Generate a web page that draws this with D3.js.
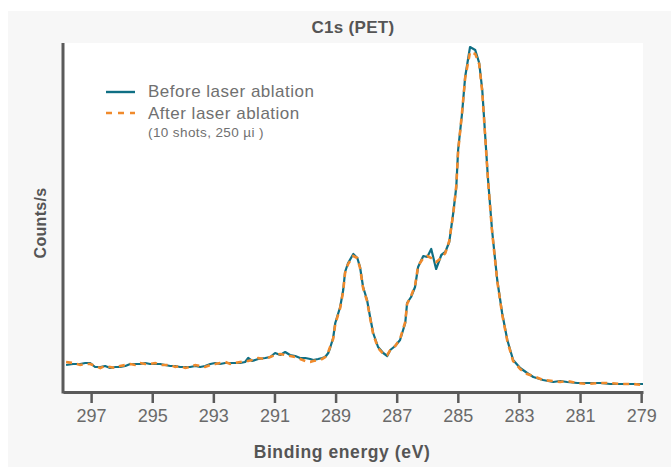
<!DOCTYPE html>
<html>

<head>
	<title>C1s (PET)</title>
	<script src="https://cdn.jsdelivr.net/npm/d3@7/dist/d3.min.js"></script>
	<style>
		body { margin: 0; background: white; }
		text { font-family: "Liberation Sans", Arial, sans-serif; }
	</style>
</head>

<body>
	<svg id="chart" width="671" height="467"></svg>

	<script>
		// binding energy (eV) and counts (arbitrary units)
		var energy = [297.82, 297.59, 297.36, 297.19, 297.03, 296.87, 296.70, 296.54, 296.38, 296.21,
			296.05, 295.88, 295.72, 295.56, 295.39, 295.23, 295.07, 294.90, 294.74, 294.58,
			294.41, 294.25, 294.09, 293.92, 293.76, 293.59, 293.43, 293.27, 293.10, 292.94,
			292.78, 292.61, 292.45, 292.29, 292.12, 291.96, 291.86, 291.73, 291.53, 291.30,
			291.14, 290.98, 290.81, 290.65, 290.49, 290.32, 290.16, 289.99, 289.83, 289.73,
			289.57, 289.44, 289.34, 289.24, 289.18, 289.08, 289.01, 288.85, 288.75, 288.69,
			288.59, 288.42, 288.29, 288.20, 288.10, 287.97, 287.87, 287.77, 287.61, 287.44,
			287.31, 287.21, 287.05, 286.89, 286.72, 286.66, 286.53, 286.40, 286.30, 286.13,
			286.00, 285.87, 285.71, 285.54, 285.41, 285.28, 285.15, 285.05, 284.99, 284.86,
			284.76, 284.60, 284.43, 284.30, 284.20, 284.11, 284.01, 283.88, 283.71, 283.55,
			283.38, 283.19, 282.96, 282.73, 282.53, 282.21, 281.88, 281.65, 281.42, 281.09,
			280.77, 280.34, 280.01, 279.69, 279.26, 278.94];

		var before = [27, 28, 28, 29, 29, 25, 25, 26, 24, 25,
			25, 26, 28, 28, 28, 29, 28, 28, 28, 27,
			26, 26, 25, 25, 25, 26, 25, 26, 28, 29,
			28, 29, 29, 29, 29, 30, 34, 31, 33, 34,
			35, 39, 37, 40, 37, 36, 34, 34, 33, 32,
			33, 34, 35, 39, 44, 54, 69, 85, 102, 120,
			129, 138, 134, 125, 105, 92, 75, 59, 45, 39,
			36, 42, 46, 52, 69, 89, 95, 105, 125, 136,
			135, 143, 123, 137, 140, 150, 179, 205, 242, 279,
			315, 345, 342, 329, 302, 259, 212, 162, 112, 79,
			52, 32, 24, 19, 15, 12, 10, 11, 10, 9,
			9, 9, 8, 8, 8, 8];

		var after = [30, 29, 27, 28, 28, 26, 24, 26, 25, 24,
			26, 27, 28, 27, 29, 28, 28, 29, 27, 27,
			27, 25, 26, 24, 25, 27, 26, 25, 27, 28,
			29, 30, 28, 29, 30, 31, 31, 32, 34, 33,
			35, 37, 38, 37, 36, 35, 33, 31, 30, 31,
			32, 33, 35, 40, 45, 53, 68, 84, 101, 119,
			128, 136, 134, 124, 104, 91, 74, 58, 44, 38,
			37, 42, 46, 53, 70, 88, 96, 106, 126, 134,
			136, 134, 130, 134, 139, 151, 178, 206, 241, 280,
			314, 340, 338, 328, 300, 258, 211, 161, 111, 78,
			51, 31, 23, 18, 16, 12, 11, 10, 11, 9,
			8, 9, 9, 8, 8, 7];

		var ticks = [297, 295, 293, 291, 289, 287, 285, 283, 281, 279];

		var svg = d3.select('#chart');

		var x = d3.scaleLinear()
			.domain([297.92, 278.94])
			.range([63, 643]);

		var y = d3.scaleLinear()
			.domain([0, 350])
			.range([392, 42]);

		// grey panel and white plot area
		svg.append('rect')
			.attr('x', 8)
			.attr('y', 11)
			.attr('width', 663)
			.attr('height', 456)
			.attr('fill', '#f7f7f7');

		svg.append('rect')
			.attr('x', x.range()[0])
			.attr('y', 43)
			.attr('width', x.range()[1] - x.range()[0])
			.attr('height', y(0) - 43)
			.attr('fill', 'white');

		var line = d3.line()
			.x(d => x(d[0]))
			.y(d => y(d[1]));

		svg.append('path')
			.datum(d3.zip(energy, before))
			.attr('d', line)
			.attr('fill', 'none')
			.attr('stroke', '#0f6f84')
			.attr('stroke-width', 2.2)
			.attr('stroke-linejoin', 'round');

		svg.append('path')
			.datum(d3.zip(energy, after))
			.attr('d', line)
			.attr('fill', 'none')
			.attr('stroke', '#f08a2c')
			.attr('stroke-width', 2.6)
			.attr('stroke-dasharray', '6,5');

		// axes
		var xAxis = svg.append('g')
			.attr('transform', 'translate(0,' + y(0) + ')')
			.call(d3.axisBottom(x)
				.tickValues(ticks)
				.tickFormat(d3.format('d'))
				.tickSize(11)
				.tickPadding(6)
				.tickSizeOuter(0));

		xAxis.select('.domain')
			.attr('stroke', '#5a5a5a')
			.attr('stroke-width', 3);

		xAxis.selectAll('.tick line')
			.attr('stroke', '#5a5a5a')
			.attr('stroke-width', 2.5);

		xAxis.selectAll('.tick text')
			.attr('fill', '#6a6a6a')
			.style('font-size', '18px')
			.style('font-family', '"Liberation Sans", Arial, sans-serif');

		svg.append('line')
			.attr('x1', x.range()[0])
			.attr('x2', x.range()[0])
			.attr('y1', 43)
			.attr('y2', y(0) + 1.5)
			.attr('stroke', '#5a5a5a')
			.attr('stroke-width', 3);

		// titles
		svg.append('text')
			.attr('x', 353)
			.attr('y', 33)
			.attr('text-anchor', 'middle')
			.attr('fill', '#555')
			.style('font-size', '17px')
			.style('letter-spacing', '0.3px')
			.style('font-weight', 'bold')
			.text('C1s (PET)');

		svg.append('text')
			.attr('x', 342)
			.attr('y', 458)
			.attr('text-anchor', 'middle')
			.attr('fill', '#555')
			.style('font-size', '17.5px')
			.style('letter-spacing', '0.6px')
			.style('font-weight', 'bold')
			.text('Binding energy (eV)');

		svg.append('text')
			.attr('transform', 'translate(46,223) rotate(-90)')
			.attr('text-anchor', 'middle')
			.attr('fill', '#555')
			.style('font-size', '16px')
			.style('letter-spacing', '0.3px')
			.style('font-weight', 'bold')
			.text('Counts/s');

		// legend
		var legend = svg.append('g');

		legend.append('line')
			.attr('x1', 106).attr('x2', 135)
			.attr('y1', 92).attr('y2', 92)
			.attr('stroke', '#0f6f84')
			.attr('stroke-width', 2.4);

		legend.append('line')
			.attr('x1', 106).attr('x2', 135)
			.attr('y1', 113).attr('y2', 113)
			.attr('stroke', '#f08a2c')
			.attr('stroke-width', 2.4)
			.attr('stroke-dasharray', '6,6');

		legend.append('text')
			.attr('x', 148).attr('y', 97)
			.attr('fill', '#707070')
			.style('font-size', '17px')
			.style('letter-spacing', '0.5px')
			.text('Before laser ablation');

		legend.append('text')
			.attr('x', 148).attr('y', 119)
			.attr('fill', '#707070')
			.style('font-size', '17px')
			.style('letter-spacing', '0.5px')
			.text('After laser ablation');

		legend.append('text')
			.attr('x', 148).attr('y', 137)
			.attr('fill', '#707070')
			.style('font-size', '13.5px')
			.style('letter-spacing', '0.4px')
			.text('(10 shots, 250 µi )');
	</script>
</body>

</html>
